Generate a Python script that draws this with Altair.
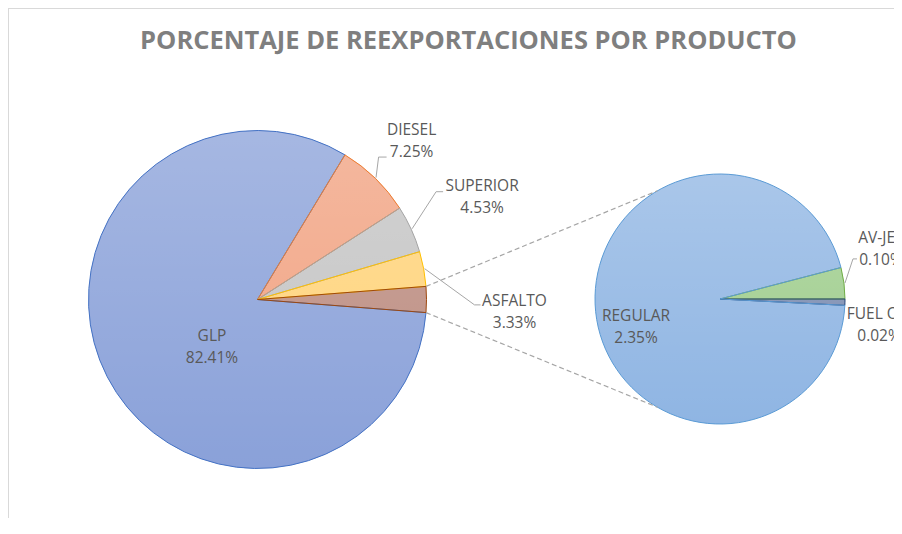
import math
import altair as alt
import pandas as pd

# ---------------- data ----------------
main_products = ["GLP", "DIESEL", "SUPERIOR", "ASFALTO"]
main_values = [82.41, 7.25, 4.53, 3.33]
sub_products = ["AV-JET", "FUEL OIL", "REGULAR"]
sub_values = [0.10, 0.02, 2.35]
title_text = "PORCENTAJE DE REEXPORTACIONES POR PRODUCTO"

# ---------------- layout / style ----------------
W, H = 886, 510
C1, R1 = (249.5, 291.5), 169      # main pie centre / radius (px)
C2, R2 = (712.0, 291.0), 125      # secondary pie centre / radius (px)
FONT = "Open Sans"
TXT = "#595959"
LEADER = "#a6a6a6"
LINE_H = 22

main_fill = ["#8aa1d9", "#f1a281", "#c4c4c4", "#ffd379", "#bc8c80"]
main_stroke = ["#4472c4", "#ed7d31", "#a5a5a5", "#ffc000", "#9e480e"]
sub_fill = ["#9ecd8c", "#7a8bb0", "#8fb5e3"]
sub_stroke = ["#70ad47", "#264478", "#5b9bd5"]

# label placement: (radius from centre, angular nudge in degrees from slice middle)
label_place = {
    "GLP": (65.8, -19.0), "DIESEL": (221, 0.0), "SUPERIOR": (247, 0.0),
    "ASFALTO": (257.3, 13.2), "REGULAR": (88.5, -12.6),
    "AV-JET": (168.6, -10.0), "FUEL OIL": (161.1, 7.8),
}
# leader elbows relative to label centre: (kink dx, end dx, dy)
leader_place = {
    "DIESEL": (-33, -25, 16), "SUPERIOR": (-46, -39, -5),
    "ASFALTO": (-40, -34, -7), "AV-JET": (-28, -24, 10),
}

# ---------------- derived tables ----------------
other_value = round(sum(sub_values), 2)
all_main = main_products + ["OTROS"]
all_main_vals = main_values + [other_value]
main_total = sum(all_main_vals)
sub_total = sum(sub_values)

other_span = other_value / main_total * 360
a0 = 90 + other_span / 2                       # main pie start angle (deg)
b0 = 90 - sub_values[0] / sub_total * 360      # secondary pie start angle (deg)


def polar(c, r, deg):
    t = math.radians(deg)
    return c[0] + r * math.sin(t), c[1] - r * math.cos(t)


def mids(names, vals, start, total):
    out, acc = {}, start
    for n, v in zip(names, vals):
        span = v / total * 360
        out[n] = (acc, acc + span, acc + span / 2)
        acc += span
    return out


main_ang = mids(all_main, all_main_vals, a0, main_total)
sub_ang = mids(sub_products, sub_values, b0, sub_total)

main_df = pd.DataFrame({"product": all_main, "value": all_main_vals,
                        "order": list(range(len(all_main)))})
sub_df = pd.DataFrame({"product": sub_products, "value": sub_values,
                       "order": list(range(len(sub_products)))})

labels, leaders = [], []
for names, vals, ang, c, r in [(main_products, main_values, main_ang, C1, R1),
                               (sub_products, sub_values, sub_ang, C2, R2)]:
    for n, v in zip(names, vals):
        lr, nudge = label_place[n]
        lx, ly = polar(c, lr, ang[n][2] + nudge)
        # y of first line so that the two-line block is centred on (lx, ly)
        labels.append({"text": f"{n}\n{v:.2f}%", "x": lx, "y": ly - LINE_H / 2})
        if n in leader_place:
            kdx, edx, dy = leader_place[n]
            sx, sy = polar(c, r + 1, ang[n][2])
            pts = [(sx, sy), (lx + kdx, ly + dy), (lx + edx, ly + dy)]
            for i, (px, py) in enumerate(pts):
                leaders.append({"label": n, "i": i, "x": px, "y": py})
labels_df = pd.DataFrame(labels)
leaders_df = pd.DataFrame(leaders)

u1 = polar(C1, R1, main_ang["OTROS"][0])
l1 = polar(C1, R1, main_ang["OTROS"][1])
u2 = polar(C2, R2, 330)
l2 = polar(C2, R2, 210)
conn_df = pd.DataFrame({"x": [u1[0], l1[0]], "y": [u1[1], l1[1]],
                        "x2": [u2[0], l2[0]], "y2": [u2[1], l2[1]]})


# ---------------- charts ----------------
def pie(df, names, fills, strokes, start, total, c, r):
    s = math.radians(start)
    theta = alt.Theta("value:Q", stack=True,
                      scale=alt.Scale(domain=[0, total], range=[s, s + 2 * math.pi]))
    base = alt.Chart(df)
    fill_layer = base.mark_arc(radius=r, strokeWidth=0).encode(
        theta=theta, order=alt.Order("order:Q"),
        fill=alt.Fill("product:N", scale=alt.Scale(domain=names, range=fills), legend=None),
        x=alt.value(c[0]), y=alt.value(c[1]),
    )
    sheen = alt.Chart(alt.Data(values=[{}])).mark_arc(
        radius=r, theta=0, theta2=2 * math.pi, strokeWidth=0,
        fill=alt.LinearGradient(
            gradient="linear", x1=0, y1=0, x2=0, y2=1,
            stops=[alt.GradientStop(offset=0, color="rgba(255,255,255,0.24)"),
                   alt.GradientStop(offset=1, color="rgba(255,255,255,0)")]),
    ).encode(x=alt.value(c[0]), y=alt.value(c[1]))
    stroke_layer = base.mark_arc(radius=r, strokeWidth=1, fillOpacity=0).encode(
        theta=theta, order=alt.Order("order:Q"),
        stroke=alt.Stroke("product:N", scale=alt.Scale(domain=names, range=strokes), legend=None),
        x=alt.value(c[0]), y=alt.value(c[1]),
    )
    return [fill_layer, sheen, stroke_layer]


main_layers = pie(main_df, all_main, main_fill, main_stroke, a0, main_total, C1, R1)
sub_layers = pie(sub_df, sub_products, sub_fill, sub_stroke, b0, sub_total, C2, R2)

conn = alt.Chart(conn_df).mark_rule(color=LEADER, strokeWidth=1.2, strokeDash=[5, 3]).encode(
    x=alt.X("x:Q", scale=None, axis=None), y=alt.Y("y:Q", scale=None, axis=None),
    x2="x2:Q", y2="y2:Q",
)

leader_lines = alt.Chart(leaders_df).mark_line(color=LEADER, strokeWidth=1).encode(
    x=alt.X("x:Q", scale=None, axis=None), y=alt.Y("y:Q", scale=None, axis=None),
    detail="label:N", order="i:Q",
)

label_text = alt.Chart(labels_df).mark_text(
    font=FONT, fontSize=15.5, color=TXT, align="center", baseline="middle",
    lineBreak="\n", lineHeight=LINE_H,
).encode(
    x=alt.X("x:Q", scale=None, axis=None), y=alt.Y("y:Q", scale=None, axis=None),
    text="text:N",
)

title = alt.Chart(alt.Data(values=[{"t": title_text}])).mark_text(
    font=FONT, fontSize=25.5, fontWeight="bold", color="#7f7f7f",
    align="center", baseline="middle",
).encode(text="t:N", x=alt.value(460.5), y=alt.value(33))

border_left = alt.Chart(alt.Data(values=[{}])).mark_rule(color="#d9d9d9", strokeWidth=1).encode(
    x=alt.value(0.5), y=alt.value(0), y2=alt.value(H))
border_top = alt.Chart(alt.Data(values=[{}])).mark_rule(color="#d9d9d9", strokeWidth=1).encode(
    x=alt.value(0), x2=alt.value(W), y=alt.value(0.5))

chart = alt.layer(
    border_left, border_top, *main_layers, *sub_layers, conn, leader_lines, label_text, title
).resolve_scale(
    theta="independent", fill="independent", stroke="independent"
).properties(
    width=W, height=H, autosize="none", padding=0, background="white"
).configure_view(stroke=None)

chart.save("out.html", embed_options={"renderer": "svg", "actions": False})
